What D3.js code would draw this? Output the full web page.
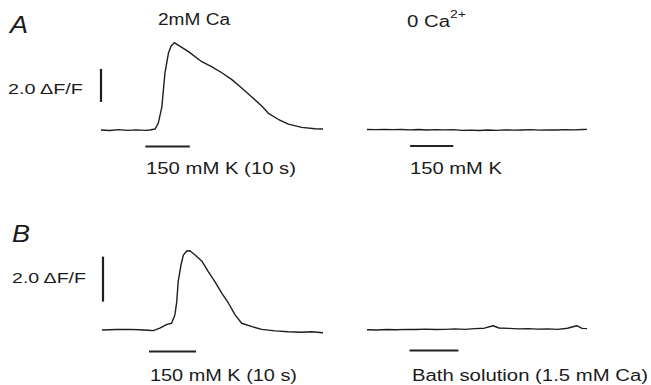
<!DOCTYPE html>
<html>
<head>
<meta charset="utf-8">
<script src="https://cdn.jsdelivr.net/npm/d3@7"></script>
<style>
  body { margin: 0; background: #fff; }
  text { font-family: "Liberation Sans", Arial, sans-serif; fill: #1b1b1b; }
</style>
</head>
<body>
<svg id="fig" width="651" height="385"></svg>
<script>
// traces: [time (s), dF/F]
const traceA_K = [
  [0, 0.0], [2, -0.03], [4, 0.02], [6, -0.02], [8, 0.01], [10, -0.02], [11, 0.0], [12.2, 0.06],
  [12.9, 0.42], [13.7, 1.39], [14.4, 3.45], [15.2, 4.67], [15.8, 5.09], [16.5, 5.29],
  [19.7, 4.75], [22.7, 4.14], [24.9, 3.84], [27.2, 3.47], [29.4, 3.07], [31.5, 2.59],
  [33.9, 2.02], [36.2, 1.45], [37.7, 1.01], [39.9, 0.65], [42.2, 0.36], [45.2, 0.16],
  [48.2, 0.08], [50, 0.06]
];
const traceA_0Ca = [
  [0, 0.03], [2, 0.02], [4, 0.04], [6, 0.02], [8, 0.03], [10, 0.01], [12, 0.03], [14, 0.0],
  [16, 0.02], [18, 0.01], [20, 0.02], [22, -0.02], [24, -0.01], [26, -0.03], [28, 0.0],
  [30, -0.02], [32, 0.01], [34, -0.01], [36, 0.0], [38, 0.02], [40, -0.01], [42, 0.01],
  [44, 0.0], [46, 0.02], [48, 0.01], [50, 0.03], [51, 0.04]
];
const traceB_K = [
  [0, 0.0], [3, 0.02], [5.6, 0.03], [8, 0.01], [9.85, -0.01], [10.9, -0.03], [12.3, 0.08],
  [13.8, 0.25], [14.8, 0.3], [15.5, 0.67], [15.9, 1.26], [16.2, 2.15], [16.8, 2.89],
  [17.3, 3.33], [18.0, 3.51], [18.7, 3.52], [19.8, 3.33], [21.2, 3.07], [22.6, 2.59],
  [24.0, 2.15], [25.5, 1.63], [26.9, 1.19], [28.3, 0.67], [29.7, 0.3], [31.9, 0.15],
  [34.0, 0.03], [36.8, -0.04], [39.6, -0.08], [42.5, -0.1], [44.6, -0.08], [47, -0.12]
];
const traceB_bath = [
  [0, 0.01], [2, 0.0], [4, 0.02], [6, 0.01], [8, 0.03], [10, 0.02], [12, 0.04], [14, 0.02],
  [16, 0.03], [18, 0.05], [20, 0.03], [22, 0.06], [24, 0.08], [25.8, 0.19], [27, 0.09],
  [29, 0.07], [31, 0.05], [33, 0.06], [35, 0.04], [37, 0.05], [39, 0.03], [41, 0.08],
  [42.9, 0.19], [44, 0.07], [45, 0.06]
];

// stimulus bars (s)
const stimA_K = [10, 20];
const stimA_0Ca = [10, 20];
const stimB_K = [10, 20];
const stimB_bath = [8.7, 18.7];

// time spans of each sweep (s)
const spanA_K = [0, 50];
const spanA_0Ca = [0, 51];
const spanB_K = [0, 47];
const spanB_bath = [0, 45];

// 2.0 dF/F calibration bars, [bottom, top]
const calA = [1.7, 3.7];
const calB = [1.26, 3.26];

const svg = d3.select("#fig");

// y scales for each row
const yA = d3.scaleLinear().domain([0, 6]).range([130, 31]);
const yB = d3.scaleLinear().domain([0, 4]).range([330, 240]);

const drawTrace = (data, span, stim, xRange, y, stimY) => {
    const x = d3.scaleLinear().domain(span).range(xRange);
    const line = d3.line()
        .x(d => x(d[0]))
        .y(d => y(d[1]));

    svg.append("path")
        .datum(data)
        .attr("d", line)
        .attr("fill", "none")
        .attr("stroke", "#1e1e1e")
        .attr("stroke-width", 1.4)
        .attr("stroke-linejoin", "round");

    // stimulus bar
    svg.append("line")
        .attr("x1", x(stim[0]))
        .attr("x2", x(stim[1]))
        .attr("y1", stimY)
        .attr("y2", stimY)
        .attr("stroke", "#222")
        .attr("stroke-width", 2);
}

drawTrace(traceA_K, spanA_K, stimA_K, [101, 323], yA, 146.5);
drawTrace(traceA_0Ca, spanA_0Ca, stimA_0Ca, [367, 587], yA, 146);
drawTrace(traceB_K, spanB_K, stimB_K, [102, 323], yB, 351.5);
drawTrace(traceB_bath, spanB_bath, stimB_bath, [367, 587], yB, 350.5);

// calibration bars
svg.append("line")
    .attr("x1", 101).attr("x2", 101)
    .attr("y1", yA(calA[0])).attr("y2", yA(calA[1]))
    .attr("stroke", "#1e1e1e").attr("stroke-width", 2.2);
svg.append("line")
    .attr("x1", 103).attr("x2", 103)
    .attr("y1", yB(calB[0])).attr("y2", yB(calB[1]))
    .attr("stroke", "#1e1e1e").attr("stroke-width", 2.2);

// labels: the original is stretched sideways, so fit each to its width
const label = (txt, x, y, size, width, italic) => {
    const t = svg.append("text")
        .attr("x", x)
        .attr("y", y)
        .style("font-size", size + "px")
        .attr("textLength", width)
        .attr("lengthAdjust", "spacingAndGlyphs")
        .text(txt);
    if (italic) t.style("font-style", "italic");
    return t;
}

label("A", 10, 33, 24, 18, true);
label("B", 12, 242, 24, 18, true);
label("2mM Ca", 158, 25, 16, 72);
label("0 Ca", 407, 27, 16, 43);
label("2+", 450, 18, 11, 16);
label("2.0 \u0394F/F", 8, 94, 15, 75);
label("2.0 \u0394F/F", 12, 283, 15, 74);
label("150 mM K (10 s)", 146, 174, 16, 150);
label("150 mM K", 410, 174, 16, 92);
label("150 mM K (10 s)", 150, 381, 16, 147);
label("Bath solution (1.5 mM Ca)", 412, 381, 16, 236);
</script>
</body>
</html>
